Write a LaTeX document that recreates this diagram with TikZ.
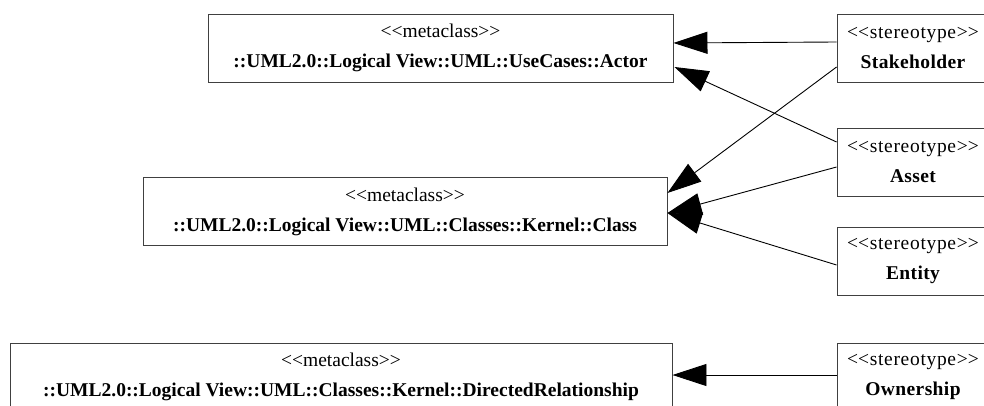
\documentclass[tikz,border=0pt]{standalone}
\usepackage{fontspec}
\setmainfont{Liberation Serif}
\usetikzlibrary{arrows.meta,calc}
% a kern keeps the font mapping from turning << and >> into guillemets
\newcommand\dlt{<\kern0pt<}
\newcommand\dgt{>\kern0pt>}
% stereotype labels are set slightly letter-spaced
\newcommand\stereo[1]{{\addfontfeatures{LetterSpace=3.5}\dlt stereotype\dgt}\\
  {\bfseries\addfontfeatures{LetterSpace=2}#1}}
\newcommand\meta[1]{\dlt metaclass\dgt\\\textbf{#1}}
\tikzset{
  umlbox/.style={draw=black!75, line width=0.9pt, rectangle, inner sep=0pt,
    minimum height=68pt, align=center,
    font=\fontsize{19.5}{30}\selectfont},
  gen/.style={draw=black, line width=0.9pt,
    -{Triangle[length=34pt,width=22pt]}},
}
\begin{document}
\begin{tikzpicture}[x=1pt,y=-1pt]
\clip (0,0) rectangle (984,406);
\fill[white] (0,0) rectangle (984,406);

% metaclasses
\node[umlbox, minimum width=465pt] (actor) at (440.5,48)
  {\meta{::UML2.0::Logical View::UML::UseCases::Actor}};
\node[umlbox, minimum width=524pt] (klass) at (405,211.5)
  {\meta{::UML2.0::Logical View::UML::Classes::Kernel::Class}};
\node[umlbox, minimum width=662pt] (drel) at (341,377)
  {\meta{::UML2.0::Logical View::UML::Classes::Kernel::DirectedRelationship}};

% stereotypes
\node[umlbox, minimum width=152pt] (stake) at (913,48) {\stereo{Stakeholder}};
\node[umlbox, minimum width=152pt] (asset) at (913,162.5) {\stereo{Asset}};
\node[umlbox, minimum width=152pt] (entity) at (913,261) {\stereo{Entity}};
\node[umlbox, minimum width=152pt] (owner) at (913,377) {\stereo{Ownership}};

% extensions
\draw[gen] ($(stake.west)+(0,-6)$) -- ($(actor.east)+(0,-5)$);
\draw[gen] ($(asset.west)+(0,-20.5)$) -- ($(actor.east)+(1,19)$);
\draw[gen] ($(stake.west)+(0,19)$) -- ($(klass.east)+(0,-18.5)$);
\draw[gen] ($(asset.west)+(0,4.5)$) -- ($(klass.east)+(0,1.5)$);
\draw[gen] ($(entity.west)+(0,4)$) -- ($(klass.east)+(0,1.5)$);
\draw[gen] ($(owner.west)+(0,-2)$) -- ($(drel.east)+(0,-2)$);
\end{tikzpicture}
\end{document}
